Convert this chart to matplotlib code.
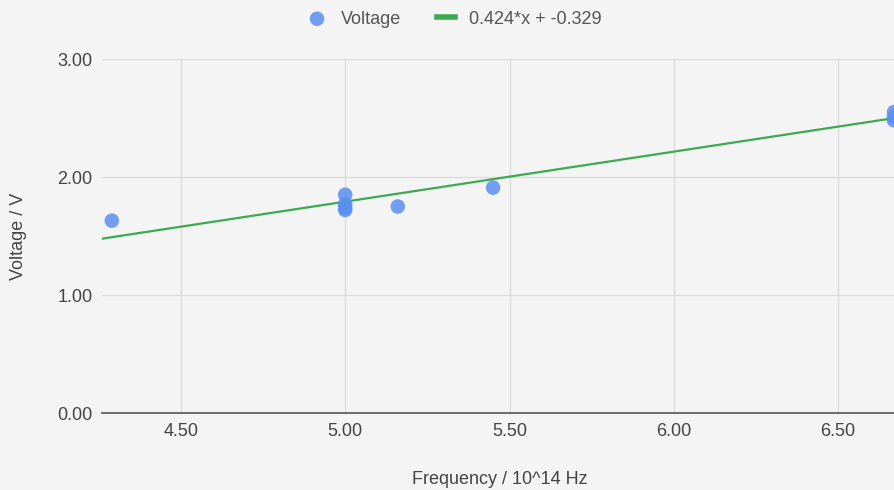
import matplotlib
matplotlib.use("Agg")
import matplotlib.pyplot as plt
import numpy as np

plt.rcParams['font.family'] = ['Liberation Sans', 'DejaVu Sans']

# measured points (frequency in 10^14 Hz, stopping voltage in V)
freq = [4.29, 5.00, 5.00, 5.00, 5.00, 5.16, 5.45, 6.67, 6.67, 6.67]
volt = [1.63, 1.85, 1.77, 1.74, 1.72, 1.75, 1.91, 2.55, 2.51, 2.48]

# trendline shown in legend
slope = 0.424
intercept = -0.329

xticks = [4.5, 5.0, 5.5, 6.0, 6.5]
yticks = [0.0, 1.0, 2.0, 3.0]

bg = '#f4f4f4'
fig = plt.figure(figsize=(8.95, 4.9), dpi=100, facecolor=bg)
ax = fig.add_axes([102/895, 1-413/490, 1-102/895, (413-59)/490], facecolor=bg)

xmin, xmax = 4.26, 6.673
ax.set_xlim(xmin, xmax)
ax.set_ylim(0, 3.0)

xs = np.array([xmin, xmax])
ax.plot(xs, slope*xs + intercept, color='#3caa50', lw=1.6, zorder=2,
        label=f'{slope}*x + {intercept}')
ax.scatter(freq, volt, s=110, color='#5b8ff0', alpha=0.85, edgecolors='none',
           zorder=3, label='Voltage')

ax.set_xticks(xticks)
ax.set_xticklabels([f'{v:.2f}' for v in xticks])
ax.set_yticks(yticks)
ax.set_yticklabels([f'{v:.2f}' for v in yticks])
ax.grid(True, color='#dcdcdc', lw=1)
ax.set_axisbelow(True)
ax.tick_params(length=0, labelsize=13, colors='#444444', pad=7)
for s in ['top', 'right', 'left']:
    ax.spines[s].set_visible(False)
ax.spines['bottom'].set_color('#555555')
ax.spines['bottom'].set_linewidth(1.2)

fig.text(500/895, 1-479/490, 'Frequency / 10^14 Hz', fontsize=13, color='#444444',
         ha='center', va='center')
fig.text(19/895, 1-236/490, 'Voltage / V', fontsize=13, color='#444444',
         ha='center', va='center', rotation=90)

handles, labels = ax.get_legend_handles_labels()
leg = fig.legend(handles[::-1], labels[::-1], loc='center', bbox_to_anchor=(455/895, 1-19/490),
                 ncol=2, frameon=False, fontsize=13, handlelength=1.0,
                 columnspacing=2.0, handletextpad=0.8, labelcolor='#555555')
leg.legend_handles[1].set_linewidth(4)

fig.savefig('out.png', dpi=100, facecolor=bg)
